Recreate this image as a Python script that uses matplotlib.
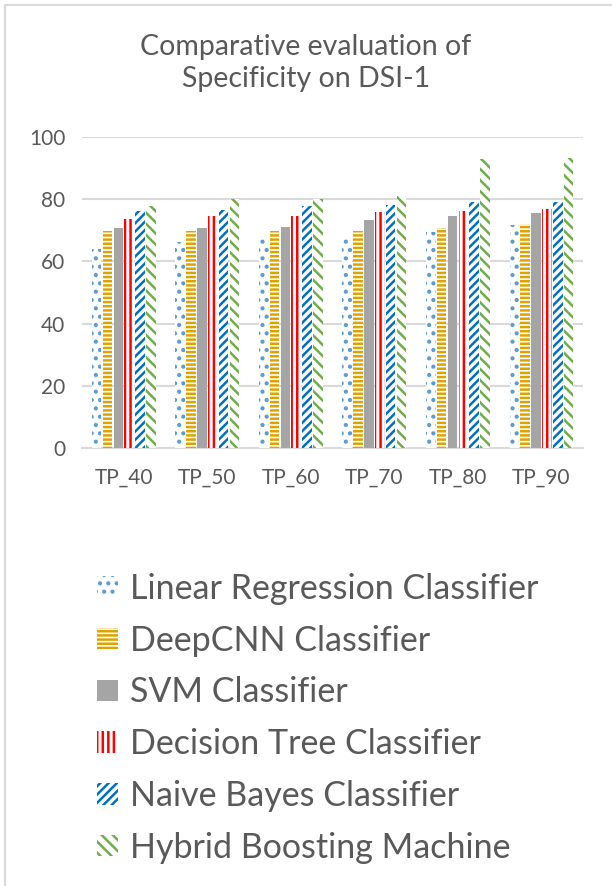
import matplotlib.pyplot as plt
import numpy as np
from matplotlib.patches import Rectangle

plt.rcParams['font.family'] = ['Lato', 'DejaVu Sans']
plt.rcParams['hatch.linewidth'] = 1.8

categories = ['TP_40', 'TP_50', 'TP_60', 'TP_70', 'TP_80', 'TP_90']
series_names = ['Linear Regression Classifier', 'DeepCNN Classifier', 'SVM Classifier',
                'Decision Tree Classifier', 'Naive Bayes Classifier', 'Hybrid Boosting Machine']
linear_regression = [64.1, 66.2, 67.8, 68.2, 69.5, 71.6]
deep_cnn = [69.8, 69.8, 69.7, 69.7, 70.8, 72.1]
svm = [70.8, 70.8, 71.1, 73.2, 74.5, 75.7]
decision_tree = [73.5, 74.5, 74.5, 75.9, 76.2, 77.0]
naive_bayes = [76.2, 76.5, 77.8, 78.1, 79.1, 79.1]
hybrid_boosting = [77.7, 79.9, 80.2, 81.0, 92.8, 93.1]

series = [linear_regression, deep_cnn, svm, decision_tree, naive_bayes, hybrid_boosting]
# (face, hatch colour, hatch)
styles = [
    ('white', '#5B9BD5', '..'),
    ('white', '#DDA400', '----'),
    ('#A5A5A5', '#A5A5A5', None),
    ('white', '#FF0000', '|||'),
    ('white', '#0070C0', '////'),
    ('white', '#70AD47', '\\\\\\'),
]

fig = plt.figure(figsize=(6.12, 8.86), dpi=100)
ax = fig.add_axes([0.134, 0.4944, 0.819, 0.351])

# chart area border (only top/left visible in the crop)
fig.patches.append(Rectangle((5 / 612, -0.1), 1.2, 1.1 - 5 / 886, transform=fig.transFigure,
                             facecolor='none', edgecolor='#D9D9D9', linewidth=1.5))

x = np.arange(len(categories))
step = 0.13
width = 0.115
for i, (vals, name, (fc, hc, h)) in enumerate(zip(series, series_names, styles)):
    ax.bar(x + (i - 2.5) * step, vals, width, label=name, facecolor=fc,
           edgecolor=hc, linewidth=0, hatch=h, zorder=3)

ax.set_xlim(-0.5, 5.5)
ax.set_ylim(0, 100)
ax.set_yticks(range(0, 101, 20))
ax.set_xticks(x)
ax.set_xticklabels(categories)
ax.grid(axis='y', color='#D9D9D9', linewidth=1.5, zorder=0)
for s in ['top', 'right', 'left']:
    ax.spines[s].set_visible(False)
ax.spines['bottom'].set_color('#D9D9D9')
ax.spines['bottom'].set_linewidth(1.5)
ax.tick_params(axis='both', length=0, labelsize=15, colors='#595959', pad=12)
ax.tick_params(axis='x', pad=14)

fig.text(0.5, 0.962, 'Comparative evaluation of\nSpecificity on DSI-1', ha='center', va='top',
         fontsize=20.5, color='#595959', linespacing=1.3)

fig.legend(loc='upper left', bbox_to_anchor=(0.109, 0.388), frameon=False, fontsize=24.5,
           labelcolor='#595959', handlelength=0.6, handleheight=0.6, handletextpad=0.35,
           labelspacing=0.58)

fig.savefig('out.png', dpi=100)
